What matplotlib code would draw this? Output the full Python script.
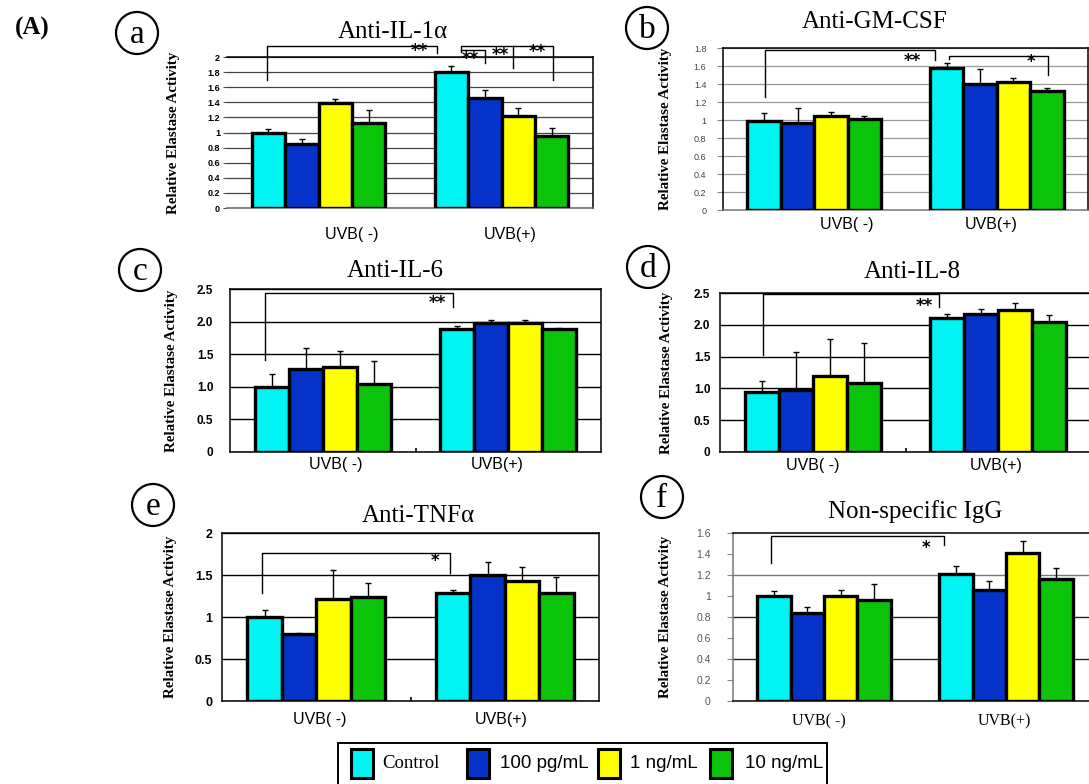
import matplotlib
matplotlib.use('Agg')
import matplotlib.pyplot as plt
import numpy as np
from matplotlib.patches import Ellipse, Rectangle

W, H = 1089, 784

# ---------------- data ----------------
groups = ['UVB( -)', 'UVB(+)']
treatments = ['Control', '100 pg/mL', '1 ng/mL', '10 ng/mL']
colors = ['#00F4F4', '#0532C8', '#FFFF00', '#0CC40C']

titles = ['Anti-IL-1\u03b1', 'Anti-GM-CSF', 'Anti-IL-6', 'Anti-IL-8',
          'Anti-TNF\u03b1', 'Non-specific IgG']
letters = ['a', 'b', 'c', 'd', 'e', 'f']

# values[group][treatment]
il1_vals = [[1.00, 0.85, 1.39, 1.12], [1.80, 1.46, 1.22, 0.95]]
il1_err = [[0.05, 0.07, 0.05, 0.18], [0.08, 0.10, 0.11, 0.11]]
gm_vals = [[0.99, 0.97, 1.04, 1.01], [1.58, 1.40, 1.42, 1.32]]
gm_err = [[0.09, 0.16, 0.05, 0.04], [0.05, 0.17, 0.05, 0.04]]
il6_vals = [[1.00, 1.27, 1.30, 1.04], [1.88, 1.98, 1.98, 1.88]]
il6_err = [[0.20, 0.33, 0.25, 0.35], [0.05, 0.05, 0.04, 0.02]]
il8_vals = [[0.95, 0.98, 1.19, 1.08], [2.11, 2.17, 2.23, 2.04]]
il8_err = [[0.17, 0.60, 0.59, 0.63], [0.06, 0.08, 0.12, 0.11]]
tnf_vals = [[1.00, 0.80, 1.21, 1.24], [1.28, 1.50, 1.43, 1.29]]
tnf_err = [[0.08, 0.015, 0.35, 0.17], [0.04, 0.15, 0.16, 0.19]]
igg_vals = [[1.00, 0.835, 1.00, 0.96], [1.21, 1.06, 1.41, 1.16]]
igg_err = [[0.05, 0.065, 0.06, 0.15], [0.08, 0.08, 0.11, 0.11]]

all_vals = [il1_vals, gm_vals, il6_vals, il8_vals, tnf_vals, igg_vals]
all_errs = [il1_err, gm_err, il6_err, il8_err, tnf_err, igg_err]

ylims = [2.0, 1.8, 2.5, 2.5, 2.0, 1.6]
ysteps = [0.2, 0.2, 0.5, 0.5, 0.5, 0.2]

# significance brackets (data coords) and stars
brackets = [
    [[(-0.28, 1.70), (-0.28, 2.145), (0.65, 2.145), (0.65, 2.05)],
     [(0.78, 2.07), (0.78, 2.145), (1.28, 2.145), (1.28, 1.70)],
     [(0.78, 2.09), (0.91, 2.09), (0.91, 1.92)],
     [(1.065, 2.145), (1.065, 1.85)]],
    [[(-0.27, 1.26), (-0.27, 1.775), (0.66, 1.775), (0.66, 1.67)],
     [(0.74, 1.68), (0.74, 1.71), (1.28, 1.71), (1.28, 1.50)]],
    [[(-0.31, 1.41), (-0.31, 2.44), (0.70, 2.44), (0.70, 2.22)]],
    [[(-0.27, 1.52), (-0.27, 2.48), (0.68, 2.48), (0.68, 2.28)]],
    [[(-0.29, 1.29), (-0.29, 1.76), (0.71, 1.76), (0.71, 1.52)]],
    [[(-0.29, 1.31), (-0.29, 1.57), (0.66, 1.57), (0.66, 1.49)]],
]
stars = [
    [(0.55, 2.08, '**'), (0.83, 1.98, '**'), (0.995, 2.03, '**'), (1.195, 2.06, '**')],
    [(0.54, 1.66, '**'), (1.19, 1.64, '*')],
    [(0.615, 2.28, '**')],
    [(0.60, 2.30, '**')],
    [(0.63, 1.67, '*')],
    [(0.56, 1.46, '*')],
]

# ---------------- layout (pixels) ----------------
boxes = [(227, 57, 593, 208), (723, 48, 1088, 210), (230, 289, 601, 452),
         (720, 293, 1091, 452), (222, 533, 599, 701), (733, 533, 1097, 701)]
title_pos = [(393, 32), (875, 22), (395, 271), (912, 272), (418, 516), (915, 512)]
circle_pos = [(137, 33), (647, 28), (140, 270), (648, 267), (153, 505), (662, 497)]
ylabel_x = [180, 672, 178, 673, 177, 672]
xlabel_pos = [[0.18, 1.05], [0.18, 0.97], [0.07, 0.94], [0.0, 0.99], [0.02, 0.98], [-0.03, 0.99]]
xlabel_pad = [19, 7, 5, 6, 11, 12]


def fx(p):
    return p / W


def fy(p):
    return 1 - p / H


plt.rcParams['font.family'] = ['Liberation Sans', 'DejaVu Sans']
fig = plt.figure(figsize=(W / 100, H / 100), dpi=100)

bar_w = 0.183
gx = np.arange(len(groups))

for k in range(6):
    l, t, r, b = boxes[k]
    ax = fig.add_axes([fx(l), fy(b), (r - l) / W, (b - t) / H])
    vals = np.array(all_vals[k])
    errs = np.array(all_errs[k])
    for i in range(4):
        xs = gx + (i - 1.5) * bar_w
        ax.bar(xs, vals[:, i], width=bar_w, color=colors[i], edgecolor='black',
               linewidth=2.4, zorder=3)
        ax.errorbar(xs, vals[:, i], yerr=[np.zeros(2), errs[:, i]], fmt='none',
                    ecolor='black', elinewidth=1.0, capsize=2.5, capthick=1.0, zorder=4)
    ax.set_xlim(-0.5, 1.5)
    ax.set_ylim(0, ylims[k])
    ticks = np.round(np.arange(0, ylims[k] + 1e-6, ysteps[k]), 2)
    ax.set_yticks(ticks)

    if k in (2, 3):
        labs = ['0'] + ['%.1f' % v for v in ticks[1:]]
    else:
        labs = ['%g' % v for v in ticks]
    ax.set_yticklabels(labs)

    ax.set_xticks(xlabel_pos[k])
    ax.set_xticklabels(groups)
    ax.tick_params(axis='x', length=0, pad=xlabel_pad[k] / 1.389)
    xfam = ['Liberation Serif'] if k == 5 else ['Liberation Sans']
    for tl in ax.get_xticklabels():
        tl.set_fontsize(11.5)
        tl.set_fontfamily(xfam)

    for s in ax.spines.values():
        s.set_linewidth(1.1)
        s.set_color('black')

    if k == 0:
        ax.tick_params(axis='y', length=3, width=0.8, color='#555', pad=2,
                       labelsize=6.5)
        for tl in ax.get_yticklabels():
            tl.set_fontweight('bold')
        ax.grid(axis='y', color='#444', linewidth=0.9, zorder=0)
        ax.spines['left'].set_visible(False)
        ax.spines['bottom'].set_color('#666')
    elif k == 1:
        ax.tick_params(axis='y', length=4, width=0.8, color='#888', pad=8,
                       labelsize=6.5, labelcolor='#444')
        ax.grid(axis='y', color='#999', linewidth=0.9, zorder=0)
        ax.spines['bottom'].set_color('#777')
    elif k in (2, 3, 4):
        ax.tick_params(axis='y', length=0, pad=12 if k == 2 else 7,
                       labelsize=9 if k == 4 else 8.5)
        for tl in ax.get_yticklabels():
            tl.set_fontweight('bold')
        ax.grid(axis='y', color='black', linewidth=1.0, zorder=0)
        ax.set_xticks([0.5], minor=True)
        ax.tick_params(axis='x', which='minor', direction='in', length=3, width=1.2)
    else:
        ax.tick_params(axis='y', length=4, width=0.8, color='#888', pad=12,
                       labelsize=7.5, labelcolor='#555')
        for gv, gc in [(0.4, '#222'), (0.8, '#222'), (1.2, '#6677AA')]:
            ax.axhline(gv, color=gc, linewidth=1.0, zorder=0)
        ax.spines['left'].set_color('#777')

    ax.set_ylabel('Relative Elastase Activity', family='Liberation Serif',
                  fontweight='bold', fontsize=10.8)
    ax.yaxis.set_label_coords((ylabel_x[k] - l) / (r - l), 0.5)

    for line in brackets[k]:
        xs_, ys_ = zip(*line)
        ax.plot(xs_, ys_, color='black', linewidth=1.0, clip_on=False, zorder=5)
    for sx, sy, st in stars[k]:
        ax.text(sx, sy, st, ha='center', va='center', fontsize=12,
                fontweight='bold', family='DejaVu Sans', zorder=6, clip_on=False)

    tx, ty = title_pos[k]
    fig.text(fx(tx), fy(ty), titles[k], ha='center', va='center',
             family='Liberation Serif', fontsize=18)
    cx, cy = circle_pos[k]
    fig.patches.append(Ellipse((fx(cx), fy(cy)), 42 / W, 42 / H, fill=False,
                               edgecolor='black', linewidth=1.6,
                               transform=fig.transFigure))
    fig.text(fx(cx), fy(cy + 2), letters[k], ha='center', va='center',
             family='Liberation Serif', fontsize=24)

fig.text(fx(32), fy(28), '(A)', ha='center', va='center', family='Liberation Serif',
         fontweight='bold', fontsize=18)

# legend (drawn manually to reproduce mixed fonts)
fig.patches.append(Rectangle((fx(338), fy(800)), (827 - 338) / W, (800 - 743) / H,
                             fill=False, edgecolor='black', linewidth=1.4,
                             transform=fig.transFigure))
leg_patch_x = [351, 467, 598, 710]
leg_text_x = [382, 500, 630, 745]
for i in range(4):
    fig.patches.append(Rectangle((fx(leg_patch_x[i]), fy(778)), 22 / W, 29 / H,
                                 facecolor=colors[i], edgecolor='black', linewidth=2.2,
                                 transform=fig.transFigure))
    fam = 'Liberation Serif' if i == 0 else 'Liberation Sans'
    fig.text(fx(leg_text_x[i]), fy(764), treatments[i], ha='left', va='center',
             family=fam, fontsize=13.5)

fig.savefig('out.png', dpi=100)
